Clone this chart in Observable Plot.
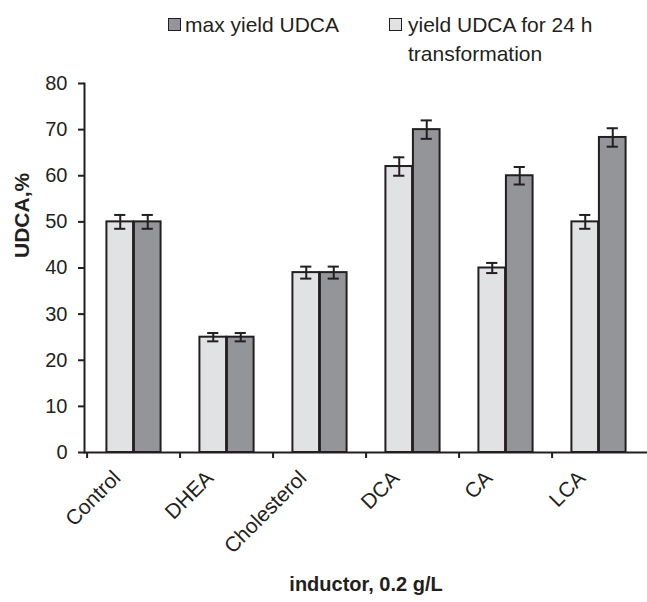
<!DOCTYPE html>
<html><head><meta charset="utf-8">
<script src="https://cdn.jsdelivr.net/npm/d3@7"></script>
<script src="https://cdn.jsdelivr.net/npm/@observablehq/plot@0.6"></script>
<style>
body{margin:0;background:#fff;}
#wrap{position:relative;width:647px;height:602px;font-family:"Liberation Sans",Arial,sans-serif;color:#231f20;}
#chart{position:absolute;left:0;top:0;}
.sw{position:absolute;width:11px;height:11px;border:1.5px solid #231f20;}
.lt{position:absolute;font-size:21px;white-space:nowrap;line-height:1;}
g[aria-label="x-axis label"] text{font-weight:bold;font-size:20px;}
</style></head><body>
<div id="wrap"><div id="chart"></div></div>
<script>
// ---- data ----
const categories = ["Control", "DHEA", "Cholesterol", "DCA", "CA", "LCA"];
const yield24 = [50, 25, 39, 62, 40, 50];
const yield24Err = [1.5, 0.9, 1.3, 2.0, 1.1, 1.5];
const maxYield = [50, 25, 39, 70, 60, 68.3];
const maxYieldErr = [1.5, 0.9, 1.3, 2.0, 1.9, 2.0];
const seriesNames = ["max yield UDCA", "yield UDCA for 24 h transformation"];
const seriesColors = ["#939598", "#e1e2e4"];
const yTicks = [0, 10, 20, 30, 40, 50, 60, 70, 80];
const xTitle = "inductor, 0.2 g/L";
const yTitle = "UDCA,%";

// ---- layout ----
const W = 647, H = 602, ML = 84, MR = 0, MT = 83, MB = 150;
const bw = (W - ML - MR) / categories.length;
const barW = 27.5, capHalf = 6;
const ink = "#231f20";

const rows24 = categories.map((c, i) => ({cat: c, v: yield24[i], e: yield24Err[i]}));
const rowsMax = categories.map((c, i) => ({cat: c, v: maxYield[i], e: maxYieldErr[i]}));

function seriesMarks(rows, color, side) {
  // side: -1 left (light), +1 right (dark)
  const left = side < 0 ? bw / 2 - barW : bw / 2;
  const right = bw - left - barW;
  const cx = side * barW / 2;
  return [
    Plot.barY(rows, {x: "cat", y: "v", fill: color, stroke: ink, strokeWidth: 2, insetLeft: left, insetRight: right}),
    Plot.ruleX(rows, {x: "cat", y1: d => d.v - d.e, y2: d => d.v + d.e, dx: cx, stroke: ink, strokeWidth: 2}),
    Plot.tickY(rows, {x: "cat", y: d => d.v + d.e, stroke: ink, strokeWidth: 2, insetLeft: bw / 2 + cx - capHalf, insetRight: bw / 2 - cx - capHalf}),
    Plot.tickY(rows, {x: "cat", y: d => d.v - d.e, stroke: ink, strokeWidth: 2, insetLeft: bw / 2 + cx - capHalf, insetRight: bw / 2 - cx - capHalf})
  ];
}

const chart = Plot.plot({
  width: W, height: H,
  marginLeft: ML, marginRight: MR, marginTop: MT, marginBottom: MB,
  style: {fontFamily: '"Liberation Sans", Arial, sans-serif', fontSize: "20px", color: ink, background: "#fff"},
  x: {domain: categories, padding: 0, axis: null},
  y: {domain: [0, 80], axis: null},
  marks: [
    ...seriesMarks(rows24, seriesColors[1], -1),
    ...seriesMarks(rowsMax, seriesColors[0], 1),
    Plot.ruleY([0], {stroke: ink, strokeWidth: 2}),
    Plot.frame({anchor: "left", stroke: ink, strokeWidth: 2}),
    Plot.axisY({ticks: yTicks, tickSize: 6, tickPadding: 11, strokeWidth: 2, stroke: ink, label: null}),
    Plot.text([yTitle], {frameAnchor: "left", rotate: -90, dx: -62, dy: -10, fontWeight: "bold", fontSize: 21, fill: ink}),
    Plot.axisX({tickSize: 6, dx: -bw / 2, tickFormat: () => "", strokeWidth: 2, stroke: ink, label: null}),
    Plot.axisX({tickSize: 0, tickPadding: 22, dx: -17, tickRotate: -45, fontSize: 21, label: xTitle, labelAnchor: "center", labelOffset: 138, labelArrow: false, fill: ink})
  ]
});
document.getElementById("chart").appendChild(chart);

// ---- legend ----
const wrap = document.getElementById("wrap");
const legendItems = [
  {color: seriesColors[0], sx: 168, tx: 185, lines: [seriesNames[0]]},
  {color: seriesColors[1], sx: 389, tx: 408, lines: ["yield UDCA for 24 h", "transformation"]}
];
legendItems.forEach(it => {
  const sw = document.createElement("div");
  sw.className = "sw";
  sw.style.left = it.sx + "px"; sw.style.top = "18px"; sw.style.background = it.color;
  wrap.appendChild(sw);
  it.lines.forEach((ln, j) => {
    const t = document.createElement("div");
    t.className = "lt";
    t.textContent = ln;
    t.style.left = it.tx + "px"; t.style.top = (14 + j * 29) + "px";
    wrap.appendChild(t);
  });
});
</script>
</body></html>
